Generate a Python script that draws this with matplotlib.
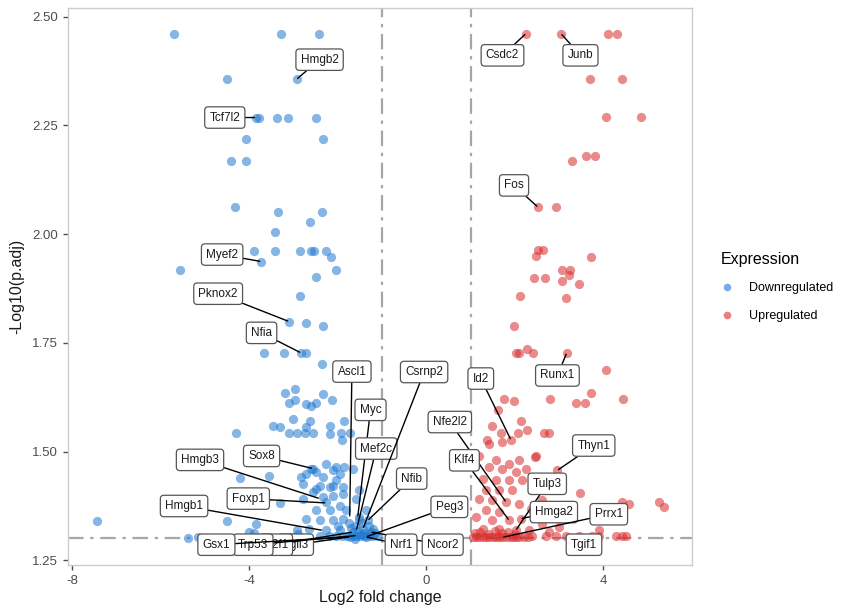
import matplotlib
matplotlib.use("Agg")
import matplotlib.pyplot as plt
from matplotlib.lines import Line2D

plt.rcParams['font.family'] = ['Liberation Sans', 'DejaVu Sans']

# Downregulated genes: log2 fold change and -log10(adjusted p)
down_lfc = [
    -5.70, -3.27, -2.43, -4.51, -2.93,
    -3.85, -3.78, -3.38, -3.12, -2.50, -4.08, -2.33, -4.40, -4.08,
    -4.33, -3.36, -2.36, -2.62, -3.42,
    -3.89, -3.42, -2.86, -2.60, -2.54, -2.26, -2.15, -3.73, -5.56, -2.05, -2.49, -2.86,
    -3.10, -2.71, -2.34, -3.66, -3.22, -2.83, -2.71, -2.36,
    -2.97, -3.18, -2.34, -3.09, -2.97, -2.71, -2.50, -2.12, -2.60,
    -3.00, -2.62, -1.87, -2.18, -3.46, -3.31, -2.71,
    -4.30, -3.09, -2.93, -2.75, -2.55, -2.17, -1.92, -1.73, -1.90,
    -4.21, -3.55, -3.30, -4.51, -3.84, -7.44, -5.37, -5.15, -4.00, -3.90,
    -2.56, -2.60, -2.71, -2.48, -2.26, -2.11, -1.96, -1.85, -2.34, -2.03,
    -2.79, -2.41, -2.18, -1.89, -2.56, -2.34, -2.11, -2.79, -1.51, -1.58,
    -2.26, -1.96, -2.48, -2.18, -1.81, -1.36, -2.71, -2.41, -2.11, -1.89,
    -1.51, -1.32, -2.93, -2.64, -2.26, -1.96, -1.66, -1.43, -1.25, -1.58,
    -1.73, -1.36, -2.82, -2.03, -1.66, -2.48, -2.11, -1.89, -1.51, -1.28,
    -1.17, -2.40, -2.20, -2.05, -1.90, -1.80, -1.65, -1.50, -1.40, -1.30,
    -1.20, -1.10, -3.05, -2.90, -1.62, -1.45, -1.70, -1.40, -1.55, -1.20,
    -2.00, -1.75, -1.30, -1.48, -1.62,
]
down_padj = [
    2.461, 2.461, 2.461, 2.356, 2.356,
    2.268, 2.268, 2.268, 2.268, 2.268, 2.218, 2.218, 2.168, 2.168,
    2.063, 2.051, 2.051, 2.028, 2.006,
    1.962, 1.962, 1.962, 1.962, 1.962, 1.962, 1.948, 1.937, 1.917, 1.917, 1.901, 1.858,
    1.799, 1.796, 1.789, 1.727, 1.727, 1.727, 1.727, 1.702,
    1.645, 1.635, 1.633, 1.612, 1.618, 1.610, 1.612, 1.619, 1.606,
    1.576, 1.570, 1.570, 1.558, 1.558, 1.556, 1.556,
    1.543, 1.543, 1.543, 1.543, 1.543, 1.540, 1.543, 1.543, 1.527,
    1.440, 1.445, 1.382, 1.340, 1.334, 1.340, 1.301, 1.303, 1.316, 1.312,
    1.461, 1.461, 1.449, 1.453, 1.472, 1.457, 1.449, 1.464, 1.441, 1.434,
    1.426, 1.422, 1.418, 1.418, 1.407, 1.396, 1.399, 1.392, 1.411, 1.392,
    1.384, 1.376, 1.365, 1.365, 1.365, 1.365, 1.346, 1.342, 1.342, 1.346,
    1.342, 1.342, 1.319, 1.323, 1.319, 1.319, 1.315, 1.323, 1.315, 1.307,
    1.304, 1.304, 1.441, 1.464, 1.461, 1.415, 1.422, 1.403, 1.349, 1.311,
    1.312, 1.305, 1.305, 1.305, 1.305, 1.305, 1.305, 1.305, 1.305, 1.305,
    1.305, 1.305, 1.303, 1.310, 1.330, 1.335, 1.325, 1.312, 1.318, 1.322,
    1.330, 1.335, 1.328, 1.310, 1.300,
]

# Upregulated genes
up_lfc = [
    2.25, 3.04, 4.11, 4.30, 3.70, 4.41, 4.06, 4.84, 3.30, 3.61, 3.81,
    2.52, 2.92, 2.52, 2.64, 2.47, 3.72,
    3.06, 3.25, 3.22, 2.42, 2.68, 3.07, 3.45, 2.11, 3.15, 1.97,
    2.03, 2.28, 2.40, 2.10, 3.17, 4.05,
    1.76, 1.98, 2.79, 3.39, 3.58, 3.71, 4.44, 1.61, 2.13, 1.49, 1.68, 2.06,
    2.28, 2.66, 2.77, 1.36, 1.91,
    2.45, 2.96, 3.48, 2.62, 2.92, 4.41, 4.57, 5.25, 5.36,
    1.42, 1.72, 2.47, 1.19, 1.57, 1.87, 2.09, 1.42, 1.72, 2.02, 2.25,
    1.27, 1.57, 1.87, 2.17, 1.34, 1.64, 1.94, 1.19, 1.49, 1.80, 2.09, 2.36,
    1.34, 1.64, 1.12, 1.49, 1.87, 2.62, 3.00, 1.27, 1.64, 2.02, 2.32, 2.77,
    2.13, 1.05, 1.12, 1.20, 1.28, 1.35, 1.42, 1.50, 1.58, 1.65, 1.72, 1.80,
    1.88, 1.95, 2.02, 2.10, 2.20, 2.30, 2.39, 2.70, 2.93, 3.15, 3.45, 3.74,
    3.90, 4.28, 4.41, 4.50, 3.90, 1.10, 1.22, 1.40, 1.55, 1.70, 1.85, 2.00,
]
up_padj = [
    2.461, 2.461, 2.461, 2.461, 2.356, 2.356, 2.269, 2.269, 2.168, 2.179, 2.179,
    2.062, 2.062, 1.963, 1.963, 1.949, 1.947,
    1.917, 1.918, 1.907, 1.900, 1.900, 1.892, 1.885, 1.858, 1.853, 1.788,
    1.727, 1.737, 1.727, 1.727, 1.727, 1.687,
    1.622, 1.616, 1.622, 1.612, 1.612, 1.635, 1.622, 1.596, 1.570, 1.560, 1.543, 1.543,
    1.550, 1.543, 1.543, 1.527, 1.527,
    1.487, 1.457, 1.405, 1.388, 1.373, 1.384, 1.380, 1.384, 1.373,
    1.518, 1.522, 1.491, 1.491, 1.480, 1.472, 1.480, 1.464, 1.461, 1.453, 1.461,
    1.438, 1.434, 1.434, 1.434, 1.411, 1.411, 1.411, 1.392, 1.388, 1.384, 1.380, 1.369,
    1.365, 1.361, 1.350, 1.342, 1.342, 1.334, 1.327, 1.323, 1.323, 1.319, 1.319, 1.315,
    1.346, 1.303, 1.303, 1.303, 1.303, 1.303, 1.303, 1.303, 1.303, 1.303, 1.303, 1.303,
    1.303, 1.303, 1.303, 1.303, 1.303, 1.303, 1.305, 1.305, 1.305, 1.305, 1.305, 1.305,
    1.305, 1.305, 1.305, 1.305, 1.319, 1.312, 1.315, 1.310, 1.318, 1.312, 1.316, 1.310,
]

# Labelled genes: name, log2FC, -log10(p.adj)
label_genes = [
    ("Hmgb2", -2.93, 2.356), ("Tcf7l2", -3.85, 2.268), ("Myef2", -3.73, 1.937),
    ("Pknox2", -3.10, 1.799), ("Nfia", -2.83, 1.727), ("Ascl1", -1.73, 1.349),
    ("Myc", -1.55, 1.349), ("Mef2c", -1.58, 1.319), ("Sox8", -2.56, 1.461),
    ("Hmgb3", -2.41, 1.392), ("Foxp1", -2.26, 1.382), ("Hmgb1", -2.34, 1.319),
    ("Vgll3", -1.73, 1.304), ("E2f1", -1.66, 1.315), ("Trp53", -1.58, 1.307),
    ("Gsx1", -1.73, 1.304), ("Nrf1", -1.36, 1.304), ("Ncor2", -1.25, 1.315),
    ("Peg3", -1.36, 1.304), ("Nfib", -1.32, 1.342), ("Csrnp2", -1.43, 1.323),
    ("Id2", 1.91, 1.527), ("Nfe2l2", 1.80, 1.384), ("Klf4", 1.87, 1.342),
    ("Runx1", 3.17, 1.727), ("Thyn1", 2.96, 1.457), ("Tulp3", 2.02, 1.319),
    ("Hmga2", 2.13, 1.346), ("Prrx1", 1.72, 1.303), ("Tgif1", 3.74, 1.305),
    ("Fos", 2.52, 2.062), ("Csdc2", 2.25, 2.461), ("Junb", 3.04, 2.461),
]

# Where each label box sits (data coordinates)
label_pos = {
    "Hmgb2": (-2.41, 2.401), "Tcf7l2": (-4.55, 2.268), "Myef2": (-4.61, 1.953),
    "Pknox2": (-4.70, 1.863), "Nfia": (-3.72, 1.773), "Ascl1": (-1.68, 1.684),
    "Myc": (-1.26, 1.596), "Mef2c": (-1.13, 1.507), "Sox8": (-3.72, 1.490),
    "Hmgb3": (-5.11, 1.481), "Foxp1": (-4.02, 1.392), "Hmgb1": (-5.47, 1.375),
    "Vgll3": (-2.95, 1.286), "E2f1": (-3.40, 1.286), "Trp53": (-3.91, 1.286),
    "Gsx1": (-4.74, 1.286), "Nrf1": (-0.57, 1.286), "Ncor2": (0.37, 1.286),
    "Peg3": (0.52, 1.373), "Nfib": (-0.33, 1.438), "Csrnp2": (-0.05, 1.683),
    "Id2": (1.23, 1.668), "Nfe2l2": (0.53, 1.568), "Klf4": (0.86, 1.480),
    "Runx1": (2.96, 1.675), "Thyn1": (3.78, 1.514), "Tulp3": (2.73, 1.426),
    "Hmga2": (2.88, 1.361), "Prrx1": (4.12, 1.356), "Tgif1": (3.56, 1.286),
    "Fos": (1.98, 2.112), "Csdc2": (1.72, 2.411), "Junb": (3.48, 2.411),
}
label_z = {"Vgll3": 5, "E2f1": 6, "Trp53": 7, "Gsx1": 7, "Ncor2": 5, "Nrf1": 6}

BLUE = "#1f78d1"
RED = "#d92b2b"

fig = plt.figure(figsize=(8.45, 6.09), dpi=100)
ax = fig.add_axes([0.0805, 0.072, 0.7385, 0.915])

ax.scatter(down_lfc, down_padj, s=44, color=BLUE, alpha=0.55, linewidths=0, zorder=3)
ax.scatter(up_lfc, up_padj, s=44, color=RED, alpha=0.55, linewidths=0, zorder=3)

ref_style = dict(color="#a6a6a6", linewidth=1.6, linestyle=(0, (7, 3, 1.5, 3)), zorder=2)
ax.axvline(-1, **ref_style)
ax.axvline(1, **ref_style)
ax.axhline(1.301, **ref_style)

for name, gx, gy in label_genes:
    lx, ly = label_pos[name]
    z = label_z.get(name, 5)
    ax.annotate(
        name, xy=(gx, gy), xytext=(lx, ly), textcoords="data",
        fontsize=8.5, color="#1a1a1a", ha="center", va="center", zorder=z,
        bbox=dict(boxstyle="round,pad=0.4,rounding_size=0.3", fc="white",
                  ec="#555555", lw=0.9),
        arrowprops=dict(arrowstyle="-", color="black", lw=1.0,
                        shrinkA=0, shrinkB=1),
    )

ax.set_xlim(-8.09, 6.0)
ax.set_ylim(1.239, 2.52)
ax.set_xticks([-8, -4, 0, 4])
ax.set_xticklabels(["-8", "-4", "0", "4"])
ax.set_yticks([1.25, 1.50, 1.75, 2.00, 2.25, 2.50])
ax.set_yticklabels(["1.25", "1.50", "1.75", "2.00", "2.25", "2.50"])
ax.tick_params(axis="both", colors="#4d4d4d", labelsize=9.5, length=3.5, width=1,
               labelcolor="#4d4d4d")
for sp in ax.spines.values():
    sp.set_color("#cccccc")
    sp.set_linewidth(1.0)

ax.set_xlabel("Log2 fold change", fontsize=11.5, color="#1a1a1a", labelpad=2)
ax.set_ylabel("-Log10(p.adj)", fontsize=11.5, color="#1a1a1a", labelpad=6)

handles = [
    Line2D([], [], marker="o", linestyle="", markersize=5.5, markerfacecolor=BLUE,
           markeredgewidth=0, alpha=0.6, label="Downregulated"),
    Line2D([], [], marker="o", linestyle="", markersize=5.5, markerfacecolor=RED,
           markeredgewidth=0, alpha=0.6, label="Upregulated"),
]
fig.legend(handles=handles, title="Expression", loc="upper left",
           bbox_to_anchor=(0.847, 0.595), frameon=False, fontsize=9,
           title_fontsize=11.5, handletextpad=1.3, labelspacing=1.25,
           alignment="left", handlelength=1.0, borderaxespad=0)

fig.savefig("out.png", dpi=100)
